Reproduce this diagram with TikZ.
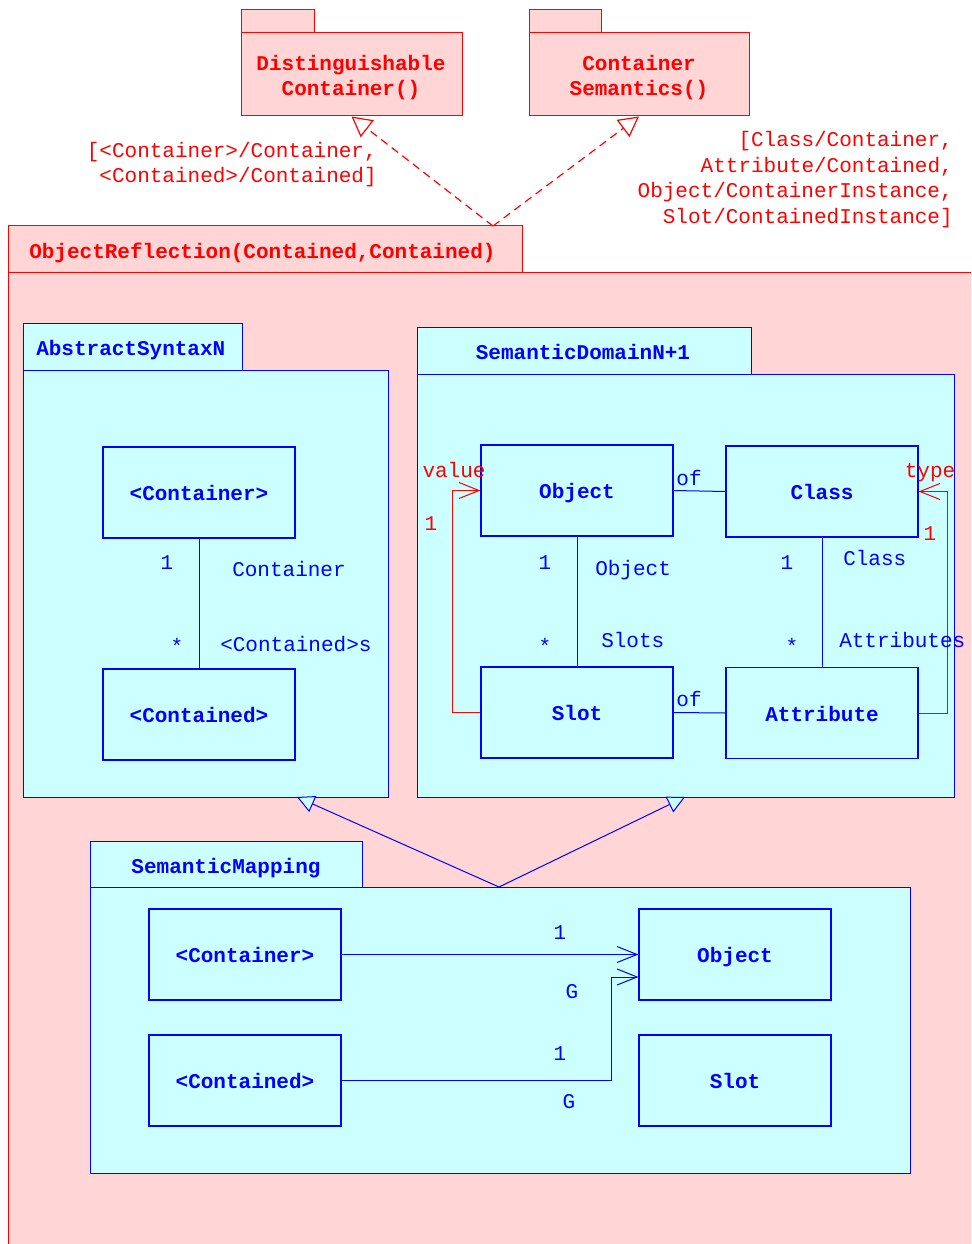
\documentclass[tikz,border=0pt]{standalone}
\usepackage{fontspec}
\setmonofont{Liberation Mono}
\usetikzlibrary{arrows.meta,calc}
\definecolor{pinkfill}{RGB}{255,213,213}
\definecolor{cyanfill}{RGB}{204,255,255}
\definecolor{ublue}{RGB}{0,0,255}
\definecolor{ured}{RGB}{255,0,0}
\newcommand\mfont{\fontsize{15.75}{18.8}\selectfont\ttfamily}
\newcommand\mfontb{\fontsize{15.75}{19.3}\selectfont\ttfamily}
\tikzset{
  pkg/.style={draw=ured, fill=pinkfill, line width=0.75pt, inner sep=0pt},
  bpkg/.style={draw=ublue, fill=cyanfill, line width=0.75pt, inner sep=0pt},
  cbox/.style={draw=ublue, fill=cyanfill, line width=0.9pt, inner sep=0pt,
    minimum width=144pt, minimum height=68.25pt, text=ublue, font=\mfont\bfseries,
    text height=12.4pt, text depth=0pt},
  lbl/.style={inner sep=0pt, font=\mfont, text height=12pt, text depth=0pt},
  blbl/.style={lbl, text=ublue},
  rlbl/.style={lbl, text=ured},
  mlbl/.style={inner sep=0pt, text=ured},
  title/.style={inner sep=0pt, font=\mfont\bfseries, text height=12pt, text depth=0pt},
  mtitle/.style={inner sep=0pt, font=\mfont\bfseries, text=ured, align=center},
  nav/.style={-{Straight Barb[length=15pt,width=12pt]}, line width=0.75pt},
  realize/.style={dash pattern=on 6pt off 4pt, draw=ured, line width=0.9pt,
    -{Triangle[open,length=15pt,width=16pt,fill=white]}},
  inherit/.style={draw=ublue, line width=0.75pt,
    -{Triangle[open,length=13pt,width=13pt,fill=cyanfill]}}
}
\begin{document}
\begin{tikzpicture}[x=0.75pt,y=-0.75pt]
\clip (0,0) rectangle (971,1244);
\fill[white] (0,0) rectangle (971,1244);

% top packages
\draw[pkg] (241,10) rectangle (314,33);
\node[pkg, minimum width=165.75pt, minimum height=62.25pt] (dc) at (351.5,74.5) {};
\node[mtitle] (dctext) at (351,77.5) {Distinguishable\\Container()};
\draw[pkg] (529,10) rectangle (601,33);
\node[pkg, minimum width=165pt, minimum height=62.25pt] (cs) at (639,74.5) {};
\node[mtitle] (cstext) at (639,77.5) {Container\\Semantics()};

% ObjectReflection package
\draw[pkg] (8,273) rectangle (1000,1300);
\node[pkg, minimum width=385.5pt, minimum height=35.25pt] (ortab) at (265,249.5) {};
\node[title, text=ured, anchor=west] (ortext) at (29,251) {ObjectReflection(Contained,Contained)};
\coordinate (apx) at (493,226);
\draw[realize] (apx) -- (dc.south);
\draw[realize] (apx) -- (cs.south);
\node[mlbl, anchor=east, align=right, font=\mfont] (lblL) at (377,164.5) {[<Container>/Container,\\<Contained>/Contained]};
\node[mlbl, anchor=east, align=right, font=\mfontb] (lblR) at (953,179.5) {[Class/Container,\\Attribute/Contained,\\Object/ContainerInstance,\\Slot/ContainedInstance]};

% AbstractSyntaxN
\draw[bpkg] (23,323) rectangle (242,370);
\draw[bpkg] (23,370) rectangle (388,797);
\node[title, text=ublue, anchor=west] (astext) at (36,347) {AbstractSyntaxN};
\node[cbox] (ascont) at (199,492.5) {<Container>};
\node[cbox] (ascontd) at (199,714.5) {<Contained>};
\draw[ublue, line width=0.75pt] (ascont.south) -- (ascontd.north);
\node[blbl] (as1) at (167,561) {1};
\node[blbl, anchor=west] (as2) at (232,568) {Container};
\node[blbl] (as3) at (177,645) {*};
\node[blbl, anchor=west] (as4) at (220,643) {<Contained>s};

% SemanticDomainN+1
\draw[bpkg] (417,327) rectangle (751,374);
\draw[bpkg] (417,374) rectangle (954,797);
\node[title, text=ublue] (sdtext) at (583,351) {SemanticDomainN+1};
\node[cbox] (obj) at (577,490.5) {Object};
\node[cbox] (cls) at (822,491.5) {Class};
\node[cbox] (slot) at (577,712.5) {Slot};
\node[cbox] (attr) at (822,713) {Attribute};
\draw[ublue, line width=0.75pt] (obj.east) -- (cls.west);
\draw[ublue, line width=0.75pt] (slot.east) -- (attr.west);
\draw[ublue, line width=0.75pt] (obj.south) -- (slot.north);
\draw[ublue, line width=0.75pt] (cls.south) -- (attr.north);
\draw[ured, nav] (slot.west) -- ++(-28,0) |- (obj.west);
\draw[ured, nav] (attr.east) -- ++(29,0) |- (cls.east);
\node[blbl] (of1) at (689,477) {of};
\node[blbl] (of2) at (689,698) {of};
\node[blbl] (sd1) at (545,561) {1};
\node[blbl, anchor=west] (sd2) at (595,567) {Object};
\node[blbl] (sd3) at (545,645) {*};
\node[blbl, anchor=west] (sd4) at (601,639) {Slots};
\node[blbl] (sd5) at (787,561) {1};
\node[blbl, anchor=west] (sd6) at (843,557) {Class};
\node[blbl] (sd7) at (792,645) {*};
\node[blbl, anchor=west] (sd8) at (839,639) {Attributes};
\node[rlbl] (val) at (454,469) {value};
\node[rlbl] (v1) at (431,522) {1};
\node[rlbl] (typ) at (930,469) {type};
\node[rlbl] (t1) at (930,532) {1};

% inheritance
\coordinate (smapx) at (499,887);
\coordinate (asinh) at (297,797);
\coordinate (sdinh) at (685,797);
\draw[inherit] (smapx) -- (asinh);
\draw[inherit] (smapx) -- (sdinh);

% SemanticMapping
\draw[bpkg] (90,841) rectangle (362,887);
\draw[bpkg] (90,887) rectangle (910,1173);
\node[title, text=ublue] (smtext) at (226,865) {SemanticMapping};
\node[cbox] (smcont) at (245,954.5) {<Container>};
\node[cbox] (smobj) at (735,954.5) {Object};
\node[cbox] (smcontd) at (245,1080.5) {<Contained>};
\node[cbox] (smslot) at (735,1080.5) {Slot};
\draw[ublue, nav] (smcont.east) -- (smobj.west);
\coordinate (bend) at (611,1080.5);
\draw[ublue, nav] (smcontd.east) -- (bend) |- ($(smobj.west)+(0,22.5)$);
\node[blbl] (m1) at (560,931) {1};
\node[blbl] (m2) at (572,990) {G};
\node[blbl] (m3) at (560,1052) {1};
\node[blbl] (m4) at (569,1100) {G};
\end{tikzpicture}
\end{document}
